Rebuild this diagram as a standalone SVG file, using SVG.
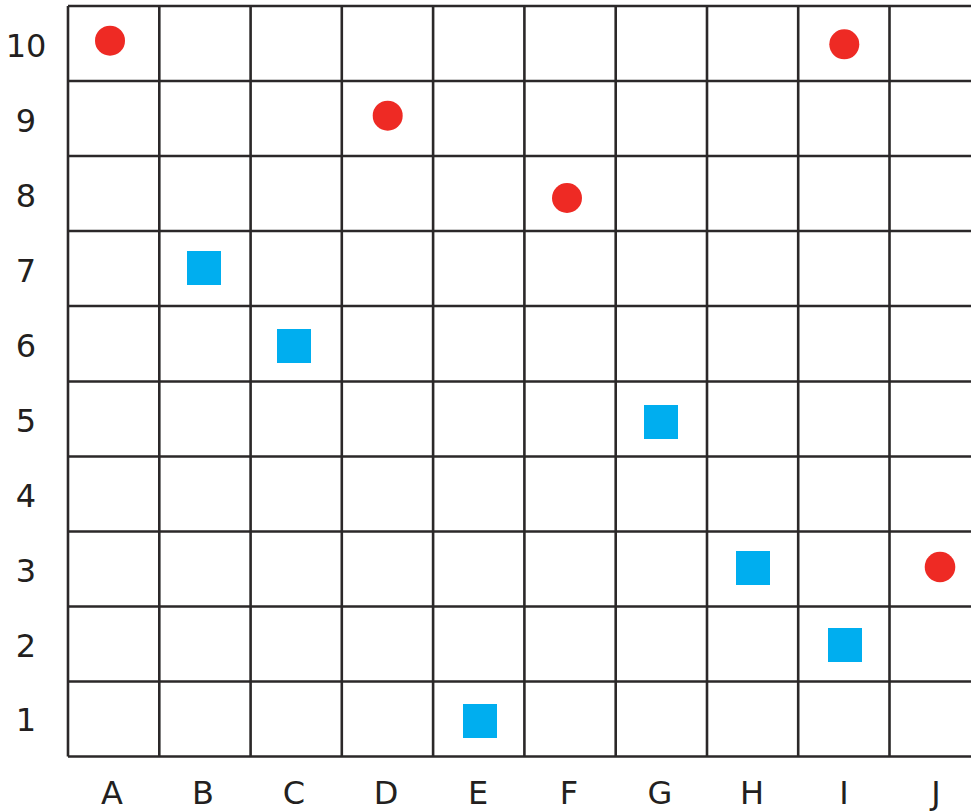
<svg xmlns="http://www.w3.org/2000/svg" width="971" height="811" viewBox="0 0 971 811">
<style>
.g{stroke:#2b2829;stroke-width:2.6;fill:none}
.c{fill:#ee2a24}
.s{fill:#00aeef}
.t{font-family:"DejaVu Sans","Liberation Sans",sans-serif;font-size:32px;fill:#231f20;text-anchor:middle}
</style>
<rect width="971" height="811" fill="#fff"/>
<g id="grid" class="g">
<path d="M68,6H985M68,81H985M68,156H985M68,231H985M68,306H985M68,381.5H985M68,456.5H985M68,531.5H985M68,606.5H985M68,681.5H985M68,756.5H985"/>
<path d="M68,6V756.5M159.3,6V756.5M250.6,6V756.5M341.8,6V756.5M433.1,6V756.5M524.4,6V756.5M615.7,6V756.5M707,6V756.5M798.2,6V756.5M889.5,6V756.5"/>
</g>
<g id="row-labels" class="t">
<text x="26" y="57">10</text>
<text x="26" y="132">9</text>
<text x="26" y="207">8</text>
<text x="26" y="282">7</text>
<text x="26" y="357">6</text>
<text x="26" y="432">5</text>
<text x="26" y="507">4</text>
<text x="26" y="582">3</text>
<text x="26" y="657">2</text>
<text x="26" y="731">1</text>
</g>
<g id="col-labels" class="t">
<text x="112" y="804">A</text>
<text x="203" y="804">B</text>
<text x="294" y="804">C</text>
<text x="386" y="804">D</text>
<text x="478" y="804">E</text>
<text x="569" y="804">F</text>
<text x="660" y="804">G</text>
<text x="752" y="804">H</text>
<text x="844" y="804">I</text>
<text x="936" y="804">J</text>
</g>
<g id="circles">
<circle id="A10" class="c" cx="110" cy="40.7" r="15"/>
<circle id="I10" class="c" cx="844.3" cy="44.3" r="15"/>
<circle id="D9" class="c" cx="387.7" cy="115.7" r="15"/>
<circle id="F8" class="c" cx="567" cy="198" r="15"/>
<circle id="J3" class="c" cx="940" cy="567" r="15.3"/>
</g>
<g id="squares">
<rect id="B7" class="s" x="187" y="251" width="34" height="34"/>
<rect id="C6" class="s" x="277" y="329" width="34" height="34"/>
<rect id="G5" class="s" x="644" y="405" width="34" height="34"/>
<rect id="H3" class="s" x="736" y="551" width="34" height="34"/>
<rect id="I2" class="s" x="828" y="628" width="34" height="34"/>
<rect id="E1" class="s" x="463" y="704" width="34" height="34"/>
</g>
</svg>
